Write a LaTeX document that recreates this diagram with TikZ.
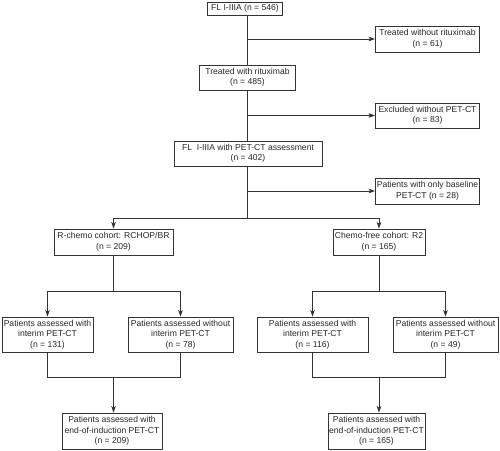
\documentclass[tikz,border=0pt]{standalone}
\usepackage{fontspec}
\setmainfont{Liberation Sans}
\usetikzlibrary{arrows.meta}
\begin{document}
\begin{tikzpicture}[x=1pt,y=-1pt,
  box/.style={draw=black!80, line width=0.8pt, rectangle, inner sep=0pt, align=center,
    font=\fontsize{8.6}{10.5}\selectfont, text=black!85},
  conn/.style={draw=black!80, line width=0.8pt},
  arr/.style={conn, -{Stealth[length=6.5pt,width=4.5pt,inset=1.5pt]}}]
\useasboundingbox (0,0) rectangle (500,450);
\node[box, minimum width=75pt, minimum height=13pt] (n0) at (245,8.5) {FL I-IIIA (n = 546)};
\node[box, minimum width=104pt, minimum height=26pt] (n1) at (427.5,39) {Treated without rituximab\\(n = 61)};
\node[box, minimum width=96pt, minimum height=25pt] (n2) at (247.5,77.5) {Treated with rituximab\\(n = 485)};
\node[box, minimum width=104pt, minimum height=25pt] (n3) at (427.5,115.5) {Excluded without PET-CT\\(n = 83)};
\node[box, minimum width=148pt, minimum height=25pt] (n4) at (248,153.5) {FL \ I-IIIA with PET-CT assessment\\(n = 402)};
\node[box, minimum width=104pt, minimum height=26pt] (n5) at (427.5,191) {Patients with only baseline\\PET-CT (n = 28)};
\node[box, minimum width=119pt, minimum height=26pt] (n6) at (113.5,242) {R-chemo cohort: RCHOP/BR\\(n = 209)};
\node[box, minimum width=92pt, minimum height=26pt] (n7) at (379,242) {Chemo-free cohort: R2\\(n = 165)};
\node[box, minimum width=91pt, minimum height=35pt] (n8) at (47.5,334.5) {Patients assessed with\\interim PET-CT\\(n = 131)};
\node[box, minimum width=105pt, minimum height=35pt] (n9) at (180.5,334.5) {Patients assessed without\\interim PET-CT\\(n = 78)};
\node[box, minimum width=100pt, minimum height=36pt] (n10) at (112,431) {Patients assessed with\\end-of-induction PET-CT\\(n = 209)};
\node[box, minimum width=111pt, minimum height=35pt] (n11) at (312.5,334.5) {Patients assessed with\\interim PET-CT\\(n = 116)};
\node[box, minimum width=105pt, minimum height=35pt] (n12) at (445.5,334.5) {Patients assessed without\\interim PET-CT\\(n = 49)};
\node[box, minimum width=97pt, minimum height=36pt] (n13) at (376.5,431) {Patients assessed with\\end-of-induction PET-CT\\(n = 165)};
% main column
\coordinate (a1) at (247,39);
\coordinate (a2) at (247,115.5);
\coordinate (a3) at (247,191);
\coordinate (s) at (247,218);
\draw[conn] (n0.south -| a1) -- (n2.north -| a1);
\draw[conn] (n2.south -| a1) -- (n4.north -| a1);
\draw[conn] (n4.south -| a1) -- (s);
\draw[arr] (a1) -- (n1.west |- a1);
\draw[arr] (a2) -- (n3.west |- a2);
\draw[arr] (a3) -- (n5.west |- a3);
\draw[arr] (s) -| (n6.north);
\draw[arr] (s) -| (n7.north);
% left branch
\coordinate (l1) at (113.5,291);
\coordinate (l2) at (113.5,377);
\draw[conn] (n6.south) -- (l1);
\draw[arr] (l1) -| (n8.north);
\draw[arr] (l1) -| (n9.north);
\draw[conn] (n8.south) |- (l2);
\draw[conn] (n9.south) |- (l2);
\draw[arr] (l2) -- (n10.north -| l2);
% right branch
\coordinate (r1) at (379,291);
\coordinate (r2) at (379,377);
\draw[conn] (n7.south) -- (r1);
\draw[arr] (r1) -| (n11.north);
\draw[arr] (r1) -| (n12.north);
\draw[conn] (n11.south) |- (r2);
\draw[conn] (n12.south) |- (r2);
\draw[arr] (r2) -- (n13.north -| r2);
\end{tikzpicture}
\end{document}
